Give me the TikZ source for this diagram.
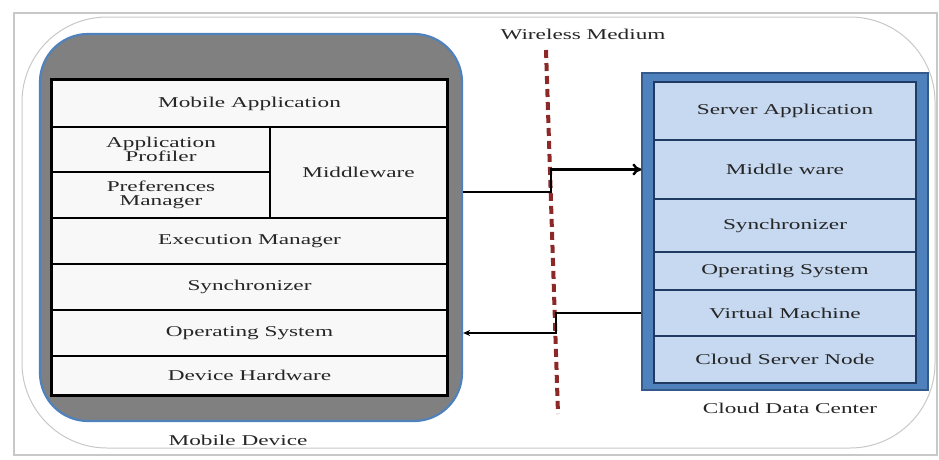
\documentclass[tikz,border=0pt]{standalone}
\usepackage{fontspec}
\setmainfont{Liberation Serif}[FakeStretch=1.55]
\usetikzlibrary{arrows.meta,positioning}

\definecolor{framegray}{RGB}{200,200,200}
\definecolor{devgray}{RGB}{128,128,128}
\definecolor{officeblue}{RGB}{79,129,189}
\definecolor{darkblue}{RGB}{52,90,140}
\definecolor{paleblue}{RGB}{198,217,241}
\definecolor{linenavy}{RGB}{31,59,99}
\definecolor{wirered}{RGB}{140,40,40}
\definecolor{layerwhite}{RGB}{248,248,248}

\tikzset{
  mlayer/.style={draw=black, line width=1.5pt, fill=layerwhite, inner sep=0pt, align=center, text=black!85},
  slayer/.style={draw=linenavy, line width=1.2pt, fill=paleblue, inner sep=0pt, align=center, text=black!85},
  wire/.style={line width=2.4pt, black},
  caption/.style={inner sep=0pt, text=black!85}
}

\begin{document}
\begin{tikzpicture}[x=1pt,y=1pt,yscale=-1,xscale=1,font=\fontsize{15}{14}\selectfont]
\useasboundingbox (0,0) rectangle (939,459);

%Shape: outer frame
\draw [framegray, line width=1.4pt] (14,13) rectangle (937,455);
\draw [framegray, line width=1pt, rounded corners=85pt] (22,17) rectangle (935,448);

%Shape: mobile device body
\node [draw=officeblue, line width=2.2pt, fill=devgray, rounded corners=48pt, minimum width=422, minimum height=387, inner sep=0pt] (mobile) at (251,227.5) {};

% Mobile stack
\node [mlayer, minimum width=395, minimum height=47] (mapp) at (249.5,103.5) {Mobile Application};
\node [mlayer, minimum width=218, minimum height=45] (mprof) at (161,149.5) {Application\\Profiler};
\node [mlayer, minimum width=218, minimum height=46] (mpref) at (161,195) {Preferences\\Manager};
\node [mlayer, minimum width=177, minimum height=91] (mmid) at (358.5,172.5) {Middleware};
\node [mlayer, minimum width=395, minimum height=46] (mexec) at (249.5,241) {Execution Manager};
\node [mlayer, minimum width=395, minimum height=46] (msync) at (249.5,287) {Synchronizer};
\node [mlayer, minimum width=395, minimum height=46] (mos) at (249.5,333) {Operating System};
\node [mlayer, minimum width=395, minimum height=39] (mhw) at (249.5,375.5) {Device Hardware};
\draw [line width=3pt] (mapp.north west) rectangle (mhw.south east);

%Shape: cloud data center body
\node [draw=darkblue, line width=1.2pt, fill=officeblue, minimum width=286, minimum height=317, inner sep=0pt] (cloud) at (785,231.5) {};

% Server stack
\node [slayer, minimum width=262, minimum height=58] (sapp) at (785,111) {Server Application};
\node [slayer, minimum width=262, minimum height=59] (smid) at (785,169.5) {Middle ware};
\node [slayer, minimum width=262, minimum height=53] (ssync) at (785,225.5) {Synchronizer};
\node [slayer, minimum width=262, minimum height=38] (sos) at (785,271) {Operating System};
\node [slayer, minimum width=262, minimum height=46] (svm) at (785,313) {Virtual Machine};
\node [slayer, minimum width=262, minimum height=47] (snode) at (785,359.5) {Cloud Server Node};

%Straight Lines: wireless medium
\coordinate (airtop) at (546,50);
\coordinate (airbot) at (558,414);
\draw [wirered, line width=4pt, dash pattern={on 8pt off 5pt}] (airtop) -- (airbot);

%Straight Lines: links
\coordinate (hopA) at (551,192);
\coordinate (hopB) at (556,313);
\draw [wire, -{To[length=9pt,width=12pt]}] (hopA -| mobile.east) -- (hopA) |- (cloud.west |- smid);
\draw [wire, -{Stealth[length=7pt,width=6pt]}] (cloud.west |- svm) -- (hopB) |- (mobile.east |- mos);

% Text Node
\node [caption] (medium) at (583,34) {Wireless Medium};
% Text Node
\node [caption] (devlabel) at (238,440) {Mobile Device};
% Text Node
\node [caption] (dclabel) at (790,408) {Cloud Data Center};

\end{tikzpicture}
\end{document}
